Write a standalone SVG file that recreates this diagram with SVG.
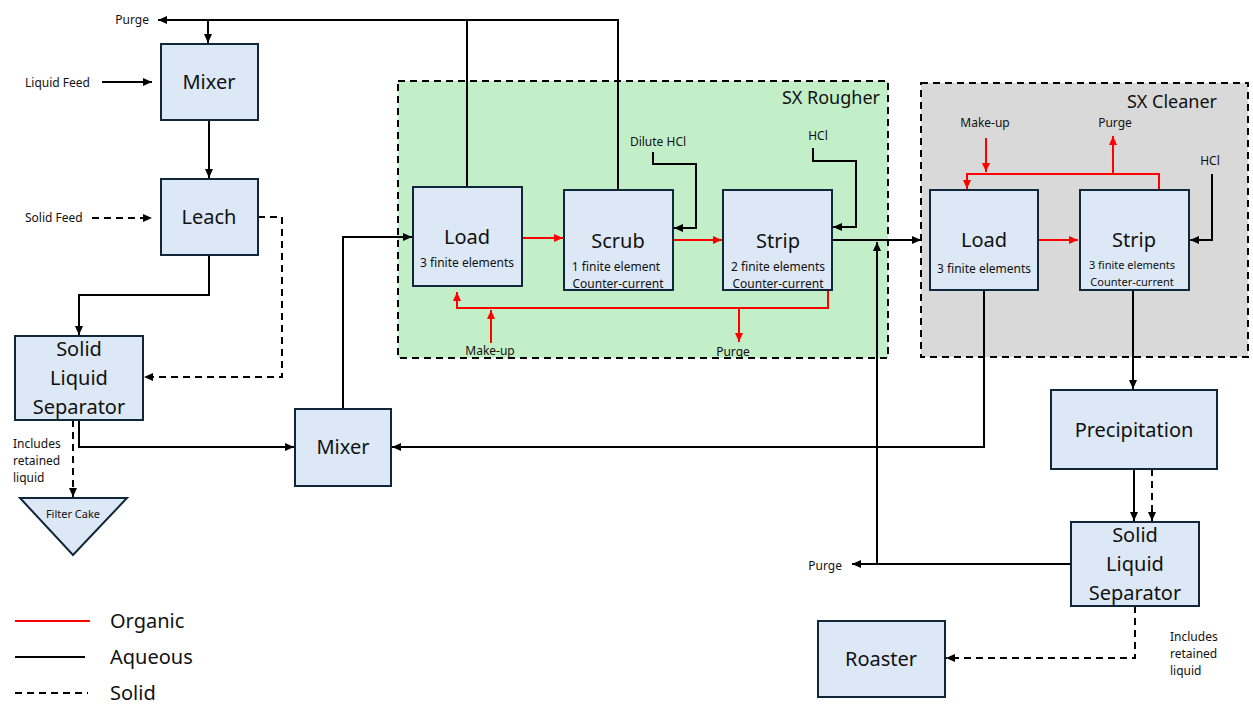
<svg xmlns="http://www.w3.org/2000/svg" width="1253" height="706" viewBox="0 0 1253 706">
<style>
text{font-family:"Noto Sans","Open Sans","DejaVu Sans",sans-serif;fill:#111}
.n{fill:#dce8f5;stroke:#10263a;stroke-width:2}
.t{font-size:20px;text-anchor:middle}
.s{font-size:12px;text-anchor:middle}
.l{font-size:12px}
.a{fill:none;stroke:#000;stroke-width:2}
.o{fill:none;stroke:#f00;stroke-width:2}
.d{fill:none;stroke:#000;stroke-width:2;stroke-dasharray:7 5}
</style>
<defs>
<marker id="k" markerUnits="userSpaceOnUse" markerWidth="10" markerHeight="10" refX="9" refY="5" orient="auto"><path d="M0,1 L9,5 L0,9 Z" fill="#000"/></marker>
<marker id="r" markerUnits="userSpaceOnUse" markerWidth="10" markerHeight="10" refX="9" refY="5" orient="auto"><path d="M0,1 L9,5 L0,9 Z" fill="#f00"/></marker>
</defs>
<rect x="398" y="81" width="490" height="277" fill="#c3efc8" stroke="#000" stroke-width="2" stroke-dasharray="7 5"/>
<text x="880" y="104" font-size="18" text-anchor="end">SX Rougher</text>
<rect x="921" y="83" width="327" height="274" fill="#d9d9d9" stroke="#000" stroke-width="2" stroke-dasharray="7 5"/>
<text x="1217" y="108" font-size="18" text-anchor="end">SX Cleaner</text>
<g id="connectors">
<path class="a" d="M467,187 V20 H208 V43" marker-end="url(#k)"/>
<path class="a" d="M208,20 H158" marker-end="url(#k)"/>
<path class="a" d="M618,190 V20 H467"/>
<path class="a" d="M102,82 H152" marker-end="url(#k)"/>
<path class="a" d="M209,120 V178" marker-end="url(#k)"/>
<path class="d" d="M92,218 H152" marker-end="url(#k)"/>
<path class="d" d="M258,217 H282 V377 H144" marker-end="url(#k)"/>
<path class="a" d="M209,255 V295 H79 V335" marker-end="url(#k)"/>
<path class="a" d="M79,420 V447 H294" marker-end="url(#k)"/>
<path class="d" d="M73,420 V497" marker-end="url(#k)"/>
<path class="a" d="M343,409 V237 H412" marker-end="url(#k)"/>
<path class="o" d="M522,238 H563" marker-end="url(#r)"/>
<path class="o" d="M673,240 H722" marker-end="url(#r)"/>
<path class="a" d="M653,152 V164 H696 V228 H674" marker-end="url(#k)"/>
<path class="a" d="M813,148 V161 H856 V227 H833" marker-end="url(#k)"/>
<path class="o" d="M828,290 V308 H457 V292" marker-end="url(#r)"/>
<path class="o" d="M491,343 V310" marker-end="url(#r)"/>
<path class="o" d="M739,308 V342" marker-end="url(#r)"/>
<path class="a" d="M832,240 H921" marker-end="url(#k)"/>
<path class="a" d="M877,564 V242" marker-end="url(#k)"/>
<path class="a" d="M1071,564 H852" marker-end="url(#k)"/>
<path class="a" d="M984,290 V447 H392" marker-end="url(#k)"/>
<path class="o" d="M986,138 V172" marker-end="url(#r)"/>
<path class="o" d="M1159,190 V174 H967 V189" marker-end="url(#r)"/>
<path class="o" d="M1113,174 V136" marker-end="url(#r)"/>
<path class="a" d="M1212,174 V240 H1190" marker-end="url(#k)"/>
<path class="o" d="M1038,240 H1078" marker-end="url(#r)"/>
<path class="a" d="M1133,290 V389" marker-end="url(#k)"/>
<path class="a" d="M1134,469 V521" marker-end="url(#k)"/>
<path class="d" d="M1152,469 V521" marker-end="url(#k)"/>
<path class="d" d="M1135,606 V658 H946" marker-end="url(#k)"/>
</g>
<g id="mixer1"><rect class="n" x="161" y="44" width="97" height="76"/><text class="t" x="209" y="89">Mixer</text></g>
<g id="leach"><rect class="n" x="161" y="179" width="97" height="76"/><text class="t" x="209" y="224">Leach</text></g>
<g id="sls1"><rect class="n" x="15" y="336" width="128" height="84"/><text class="t" x="79" y="356">Solid</text><text class="t" x="79" y="385">Liquid</text><text class="t" x="79" y="414">Separator</text></g>
<g id="filtercake"><path d="M20,498 H127 L73,555 Z" fill="#dce8f5" stroke="#10263a" stroke-width="2"/><text x="73" y="518" font-size="11" text-anchor="middle">Filter Cake</text></g>
<g id="mixer2"><rect class="n" x="295" y="409" width="96" height="77"/><text class="t" x="343" y="454">Mixer</text></g>
<g id="loadR"><rect class="n" x="413" y="187" width="109" height="99"/><text class="t" x="467" y="244">Load</text><text class="s" x="467" y="267">3 finite elements</text></g>
<g id="scrub"><rect class="n" x="564" y="190" width="109" height="100"/><text class="t" x="618" y="248">Scrub</text><text class="s" x="616" y="271">1 finite element</text><text class="s" x="618" y="288">Counter-current</text></g>
<g id="stripR"><rect class="n" x="723" y="190" width="109" height="100"/><text class="t" x="778" y="248">Strip</text><text class="s" x="778" y="271">2 finite elements</text><text class="s" x="778" y="288">Counter-current</text></g>
<g id="loadC"><rect class="n" x="930" y="190" width="108" height="100"/><text class="t" x="984" y="247">Load</text><text class="s" x="984" y="273">3 finite elements</text></g>
<g id="stripC"><rect class="n" x="1080" y="190" width="109" height="100"/><text class="t" x="1134" y="247">Strip</text><text x="1132" y="269" font-size="11" text-anchor="middle">3 finite elements</text><text x="1132" y="286" font-size="11" text-anchor="middle">Counter-current</text></g>
<g id="precip"><rect class="n" x="1051" y="390" width="166" height="79"/><text class="t" x="1134" y="437">Precipitation</text></g>
<g id="sls2"><rect class="n" x="1071" y="522" width="128" height="84"/><text class="t" x="1135" y="542">Solid</text><text class="t" x="1135" y="571">Liquid</text><text class="t" x="1135" y="600">Separator</text></g>
<g id="roaster"><rect class="n" x="818" y="621" width="127" height="76"/><text class="t" x="881" y="666">Roaster</text></g>
<g id="labels">
<text class="l" x="149" y="24" text-anchor="end">Purge</text>
<text class="l" x="25" y="87">Liquid Feed</text>
<text class="l" x="25" y="222">Solid Feed</text>
<text class="l" x="13" y="448">Includes</text><text class="l" x="13" y="465">retained</text><text class="l" x="13" y="482">liquid</text>
<text class="l" x="658" y="146" text-anchor="middle">Dilute HCl</text>
<text class="l" x="818" y="140" text-anchor="middle">HCl</text>
<text class="l" x="490" y="355" text-anchor="middle">Make-up</text>
<text class="l" x="733" y="356" text-anchor="middle">Purge</text>
<text class="l" x="985" y="127" text-anchor="middle">Make-up</text>
<text class="l" x="1115" y="127" text-anchor="middle">Purge</text>
<text class="l" x="1210" y="165" text-anchor="middle">HCl</text>
<text class="l" x="842" y="570" text-anchor="end">Purge</text>
<text class="l" x="1170" y="641">Includes</text><text class="l" x="1170" y="658">retained</text><text class="l" x="1170" y="675">liquid</text>
</g>
<g id="legend">
<path class="o" d="M15,621 H90"/><text x="110" y="628" font-size="20">Organic</text>
<path class="a" d="M15,657 H85"/><text x="110" y="664" font-size="20">Aqueous</text>
<path class="d" d="M15,693 H88"/><text x="110" y="700" font-size="20">Solid</text>
</g>
</svg>
